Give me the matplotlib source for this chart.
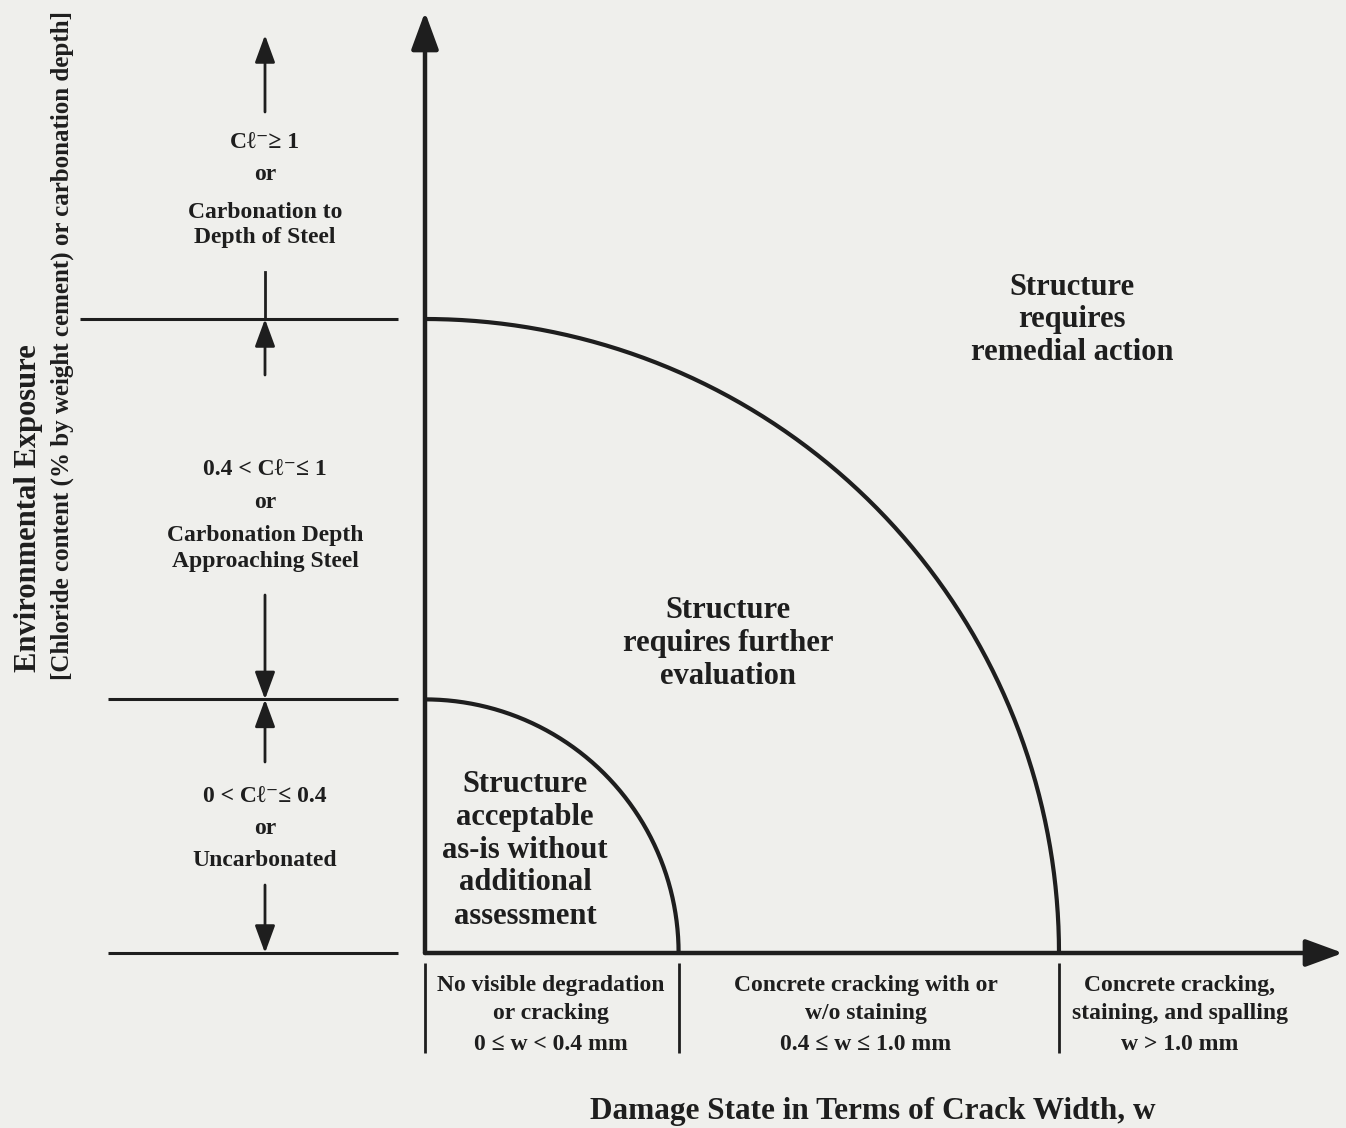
"""Damage-state / environmental-exposure evaluation diagram"""

import matplotlib.pyplot as plt
import numpy as np

# --- data (crack width in mm, chloride content in % by weight cement) ---
crack_bounds = [0.0, 0.4, 1.0]
chloride_bounds = [0.0, 0.4, 1.0]
arc_radii = [0.4, 1.0]

region_labels = [
    ["Structure", "acceptable", "as-is without", "additional", "assessment"],
    ["Structure", "requires further", "evaluation"],
    ["Structure", "requires", "remedial action"],
]
exposure_labels = [
    ["0 < C\u2113\u207b\u2264 0.4", "or", "Uncarbonated"],
    ["0.4 < C\u2113\u207b\u2264 1", "or", "Carbonation Depth",
     "Approaching Steel"],
    ["C\u2113\u207b\u2265 1", "or", "Carbonation to", "Depth of Steel"],
]
damage_labels = [
    ["No visible degradation", "or cracking", "0 \u2264 w < 0.4 mm"],
    ["Concrete cracking with or", "w/o staining", "0.4 \u2264 w \u2264 1.0 mm"],
    ["Concrete cracking,", "staining, and spalling", "w > 1.0 mm"],
]
xlabel = "Damage State in Terms of Crack Width, w"
ylabel = ["Environmental Exposure",
          "[Chloride content (% by weight cement) or carbonation depth]"]

# --- layout helpers (figure drawn in pixel-equivalent data space) ---
S = 634.0              # pixels per unit
X0, Y0 = 425.0, 953.0  # pixel position of origin
W, H = 1346, 1128


def px(x):
    return (x - X0) / S


def py(y):
    return (Y0 - y) / S


def put_lines(x, ys, lines, size):
    for y, line in zip(ys, lines):
        ax.text(x, py(y), line, ha="center", va="center", fontsize=size,
                **_font)


ink = "#1e1e1e"
_font = dict(family=["Liberation Serif", "DejaVu Serif"], weight="bold",
             color=ink)

fig = plt.figure(figsize=(W / 100, H / 100), dpi=100)
fig.patch.set_facecolor("#efefec")
ax = fig.add_axes([0, 0, 1, 1])
ax.set_xlim(px(0), px(W))
ax.set_ylim(py(H), py(0))
ax.axis("off")

# main axes with arrows
_big = dict(arrowstyle="-|>,head_length=0.6,head_width=0.22",
            mutation_scale=38, lw=3.2, color=ink, shrinkA=0, shrinkB=0)
ax.annotate("", xy=(0, py(12)), xytext=(0, 0), arrowprops=_big)
ax.annotate("", xy=(px(1343), 0), xytext=(0, 0), arrowprops=_big)

# boundary arcs
theta = np.linspace(0, np.pi / 2, 300)
for r in arc_radii:
    ax.plot(r * np.cos(theta), r * np.sin(theta), color=ink, lw=3.0,
            solid_capstyle="butt")

# region labels
put_lines(px(525), [785, 817, 850, 883, 916], region_labels[0], 22)
put_lines(px(728), [610, 643, 676], region_labels[1], 22)
put_lines(px(1072), [287, 320, 353], region_labels[2], 22)

# left: exposure levels
ax.hlines(chloride_bounds, [px(108), px(108), px(80)], px(398),
          color=ink, lw=2.2)

xa = px(265)
_small = dict(arrowstyle="-|>,head_length=0.6,head_width=0.22",
              mutation_scale=28, lw=2.0, color=ink, shrinkA=0, shrinkB=0)
# bottom band
ax.annotate("", xy=(xa, chloride_bounds[0]), xytext=(xa, py(885)),
            arrowprops=_small)
ax.annotate("", xy=(xa, chloride_bounds[1]), xytext=(xa, py(762)),
            arrowprops=_small)
# middle band
ax.annotate("", xy=(xa, chloride_bounds[1]), xytext=(xa, py(595)),
            arrowprops=_small)
ax.annotate("", xy=(xa, chloride_bounds[2]), xytext=(xa, py(375)),
            arrowprops=_small)
# top band
ax.plot([xa, xa], [py(272), chloride_bounds[2]], color=ink, lw=2.0)
ax.annotate("", xy=(xa, py(35)), xytext=(xa, py(112)), arrowprops=_small)

put_lines(xa, [797, 828, 860], exposure_labels[0], 17)
put_lines(xa, [470, 502, 536, 561], exposure_labels[1], 17)
put_lines(xa, [143, 175, 212, 238], exposure_labels[2], 17)

# bottom: damage states
ax.vlines(crack_bounds, py(963), py(1053), color=ink, lw=2.0)
for lab, x in zip(damage_labels, [551, 866, 1180]):
    put_lines(px(x), [986, 1013, 1044], lab, 17)

ax.text(px(873), py(1112), xlabel, ha="center", va="center", fontsize=22.5,
        **_font)

# y label (two rotated lines, bottom aligned)
ax.text(px(28), py(672), ylabel[0], rotation=90, ha="center", va="bottom",
        fontsize=22, **_font)
ax.text(px(62), py(680), ylabel[1], rotation=90, ha="center", va="bottom",
        fontsize=18, **_font)

fig.savefig("out.png", dpi=100, facecolor=fig.get_facecolor())
